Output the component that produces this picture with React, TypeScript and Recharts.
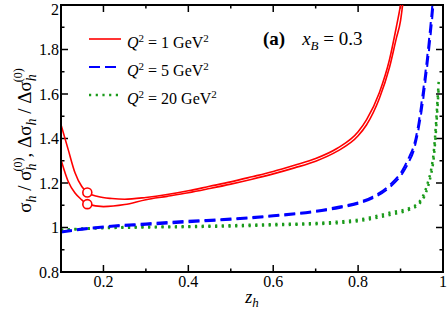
import { LineChart, Line, XAxis, YAxis, ReferenceLine, ReferenceArea, ReferenceDot, Legend } from "recharts";

// z_h grid and ratios (x_B = 0.3)
const Z_RED_A = [0.1, 0.117, 0.133, 0.149, 0.162, 0.187, 0.22, 0.25, 0.3, 0.35, 0.4, 0.45, 0.5, 0.55, 0.6, 0.65, 0.7, 0.75, 0.8, 0.82, 0.85, 0.874, 0.89, 0.9, 0.91];
const RED_A = [1.462, 1.35, 1.246, 1.184, 1.157, 1.139, 1.13, 1.127, 1.135, 1.148, 1.165, 1.185, 1.205, 1.228, 1.252, 1.28, 1.31, 1.355, 1.43, 1.485, 1.606, 1.755, 1.9, 2.0, 2.12];

const Z_RED_B = [0.1, 0.117, 0.133, 0.149, 0.162, 0.2, 0.25, 0.3, 0.35, 0.4, 0.45, 0.5, 0.55, 0.6, 0.65, 0.7, 0.75, 0.8, 0.82, 0.85, 0.874, 0.89, 0.9, 0.905, 0.915];
const RED_B = [1.305, 1.207, 1.155, 1.124, 1.105, 1.094, 1.103, 1.125, 1.14, 1.156, 1.175, 1.195, 1.217, 1.241, 1.268, 1.298, 1.342, 1.412, 1.462, 1.58, 1.72, 1.85, 1.93, 2.0, 2.12];

const Z_BLUE = [0.1, 0.15, 0.2, 0.3, 0.4, 0.5, 0.6, 0.7, 0.756, 0.8, 0.835, 0.874, 0.905, 0.921, 0.93, 0.945, 0.95, 0.96, 0.97, 0.975, 0.98];
const BLUE_A = [0.982, 0.995, 1.005, 1.018, 1.03, 1.04, 1.055, 1.075, 1.094, 1.113, 1.139, 1.19, 1.259, 1.32, 1.36, 1.5, 1.57, 1.72, 1.9, 2.0, 2.1];
const BLUE_B = [0.978, 0.99, 1.0, 1.012, 1.024, 1.035, 1.05, 1.07, 1.088, 1.107, 1.132, 1.18, 1.245, 1.3, 1.34, 1.47, 1.53, 1.68, 1.85, 1.95, 2.06];

const Z_GREEN = [0.1, 0.15, 0.2, 0.3, 0.4, 0.5, 0.6, 0.7, 0.756, 0.8, 0.835, 0.882, 0.921, 0.945, 0.956, 0.964, 0.972, 0.978, 0.984, 0.988, 0.99];
const GREEN_A = [0.99, 0.995, 1.0, 1.003, 1.006, 1.01, 1.015, 1.02, 1.027, 1.035, 1.048, 1.07, 1.087, 1.117, 1.155, 1.2, 1.26, 1.335, 1.48, 1.6, 1.66];
const GREEN_B = [0.988, 0.993, 0.997, 1.0, 1.002, 1.005, 1.01, 1.015, 1.02, 1.028, 1.04, 1.06, 1.08, 1.108, 1.14, 1.18, 1.24, 1.31, 1.45, 1.57, 1.63];

const CIRCLE_Z = 0.162;
const CIRCLE_Y = [1.157, 1.105];

const Q2_VALUES = ["1", "5", "20"];
const X_TICKS = [0.2, 0.4, 0.6, 0.8, 1];
const Y_TICKS = [0.8, 1, 1.2, 1.4, 1.6, 1.8, 2];
const X_MINOR = [0.3, 0.5, 0.7, 0.9];
const Y_MINOR = [0.9, 1.1, 1.3, 1.5, 1.7, 1.9];

const zip = (zs: number[], ys: number[]) => zs.map((z, i) => ({ z, v: ys[i] }));

const FONT = "'Liberation Serif', 'DejaVu Serif', 'Liberation Sans', Arial, sans-serif";
const RED = "#ff0000";
const BLUE = "#0000ff";
const GREEN = "#1a9a1a";

const STYLES = [
  { color: RED, width: 1.6, dash: undefined as string | undefined },
  { color: BLUE, width: 2, dash: "11 5" },
  { color: GREEN, width: 2.5, dash: "2.2 4.5" },
];

const renderLegend = () => (
  <div style={{ fontFamily: FONT }}>
    {Q2_VALUES.map((q, i) => (
      <div key={q} style={{ display: "flex", alignItems: "center", height: 28 }}>
        <svg width={32} height={10}>
          <line x1={0} y1={5} x2={32} y2={5} stroke={STYLES[i].color} strokeWidth={STYLES[i].width} strokeDasharray={STYLES[i].dash} />
        </svg>
        <span style={{ marginLeft: 6, fontSize: 16, lineHeight: "16px", color: "#000", position: "relative", top: 2 }}>
          <i>Q</i><sup style={{ fontSize: 11 }}>2</sup> = {q} GeV<sup style={{ fontSize: 11 }}>2</sup>
        </span>
      </div>
    ))}
  </div>
);

const YLabel = ({ viewBox }: any) => {
  const cy = viewBox.y + viewBox.height / 2;
  return (
    <text transform={`translate(31, ${cy + 2}) rotate(-90)`} textAnchor="middle" fontSize={19} fontFamily={FONT} fill="#000">
      <tspan>σ</tspan>
      <tspan fontStyle="italic" fontSize={14} dy={5}>h</tspan>
      <tspan dy={-5}> / σ</tspan>
      <tspan fontStyle="italic" fontSize={14} dy={5}>h</tspan>
      <tspan fontSize={12} dx={-8} dy={-14}>(0)</tspan>
      <tspan dy={9}>,   Δσ</tspan>
      <tspan fontStyle="italic" fontSize={14} dy={5}>h</tspan>
      <tspan dy={-5}> / Δσ</tspan>
      <tspan fontStyle="italic" fontSize={14} dy={5}>h</tspan>
      <tspan fontSize={12} dx={-8} dy={-14}>(0)</tspan>
    </text>
  );
};

const XLabel = ({ viewBox }: any) => (
  <text x={viewBox.x + viewBox.width / 2} y={viewBox.y + 31} textAnchor="middle" fontSize={18} fontFamily={FONT} fill="#000">
    <tspan fontStyle="italic">z</tspan>
    <tspan fontStyle="italic" fontSize={13} dy={4}>h</tspan>
  </text>
);

export default function App() {
  const tick = { fontSize: 16, fontFamily: FONT, fill: "#000" };
  const dx = 0.0165, dy = 0.0315;
  return (
    <div style={{ position: "absolute", left: 0, top: 0, width: 447, height: 310, background: "#fff", fontFamily: FONT }}>
      <LineChart width={447} height={310} margin={{ top: 5, right: 4, left: 0, bottom: 0 }} style={{ fontFamily: FONT }}>
        <XAxis
          dataKey="z" type="number" domain={[0.1, 1]} ticks={X_TICKS} allowDataOverflow
          height={38} tickSize={0} tickMargin={4} tick={tick}
          axisLine={{ stroke: "#000", strokeWidth: 2 }} tickLine={false}
          label={{ content: <XLabel /> } as any}
        />
        <YAxis
          type="number" domain={[0.8, 2]} ticks={Y_TICKS} allowDataOverflow
          width={61} tickSize={0} tickMargin={2} tick={tick}
          axisLine={{ stroke: "#000", strokeWidth: 2 }} tickLine={false}
          label={{ content: <YLabel /> } as any}
        />
        <ReferenceArea x1={0.1} x2={1} y1={0.8} y2={2} fill="none" stroke="#000" strokeWidth={2} />
        {X_TICKS.slice(0, 4).map((x) => [
          <ReferenceLine key={`xb${x}`} segment={[{ x, y: 0.8 }, { x, y: 0.8 + dy }]} stroke="#000" strokeWidth={1.5} />,
          <ReferenceLine key={`xt${x}`} segment={[{ x, y: 2 }, { x, y: 2 - dy }]} stroke="#000" strokeWidth={1.5} />,
        ])}
        {X_MINOR.map((x) => [
          <ReferenceLine key={`xmb${x}`} segment={[{ x, y: 0.8 }, { x, y: 0.8 + dy / 2 }]} stroke="#000" strokeWidth={1.5} />,
          <ReferenceLine key={`xmt${x}`} segment={[{ x, y: 2 }, { x, y: 2 - dy / 2 }]} stroke="#000" strokeWidth={1.5} />,
        ])}
        {Y_TICKS.slice(1, 6).map((y) => [
          <ReferenceLine key={`yl${y}`} segment={[{ x: 0.1, y }, { x: 0.1 + dx, y }]} stroke="#000" strokeWidth={1.5} />,
          <ReferenceLine key={`yr${y}`} segment={[{ x: 1, y }, { x: 1 - dx, y }]} stroke="#000" strokeWidth={1.5} />,
        ])}
        {Y_MINOR.map((y) => [
          <ReferenceLine key={`yml${y}`} segment={[{ x: 0.1, y }, { x: 0.1 + dx / 2, y }]} stroke="#000" strokeWidth={1.5} />,
          <ReferenceLine key={`ymr${y}`} segment={[{ x: 1, y }, { x: 1 - dx / 2, y }]} stroke="#000" strokeWidth={1.5} />,
        ])}
        <Line data={zip(Z_GREEN, GREEN_A)} dataKey="v" name="20" type="monotone" stroke={GREEN} strokeWidth={2.5} strokeDasharray="2.2 4.5" dot={false} isAnimationActive={false} legendType="none" />
        <Line data={zip(Z_GREEN, GREEN_B)} dataKey="v" type="monotone" stroke={GREEN} strokeWidth={2.5} strokeDasharray="2.2 4.5" dot={false} isAnimationActive={false} legendType="none" />
        <Line data={zip(Z_BLUE, BLUE_A)} dataKey="v" name="5" type="monotone" stroke={BLUE} strokeWidth={2} strokeDasharray="11 5" dot={false} isAnimationActive={false} legendType="none" />
        <Line data={zip(Z_BLUE, BLUE_B)} dataKey="v" type="monotone" stroke={BLUE} strokeWidth={2} strokeDasharray="11 5" dot={false} isAnimationActive={false} legendType="none" />
        <Line data={zip(Z_RED_A, RED_A)} dataKey="v" name="1" type="monotone" stroke={RED} strokeWidth={1.6} dot={false} isAnimationActive={false} legendType="none" />
        <Line data={zip(Z_RED_B, RED_B)} dataKey="v" type="monotone" stroke={RED} strokeWidth={1.6} dot={false} isAnimationActive={false} legendType="none" />
        {CIRCLE_Y.map((y) => (
          <ReferenceDot key={y} x={CIRCLE_Z} y={y} r={4.5} fill="#fff" stroke={RED} strokeWidth={1.6} />
        ))}
        <Legend content={renderLegend} layout="vertical" align="center" verticalAlign="middle" wrapperStyle={{ top: 25, left: 89, width: "auto", height: "auto" }} />
      </LineChart>
      <div style={{ position: "absolute", left: 263, top: 28, fontFamily: FONT, fontSize: 19, lineHeight: "22px", color: "#000", whiteSpace: "nowrap" }}>
        <b>(a)</b>
        <span style={{ marginLeft: 17 }}>
          <i>x</i><sub style={{ fontSize: 13 }}><i>B</i></sub> = 0.3
        </span>
      </div>
    </div>
  );
}
